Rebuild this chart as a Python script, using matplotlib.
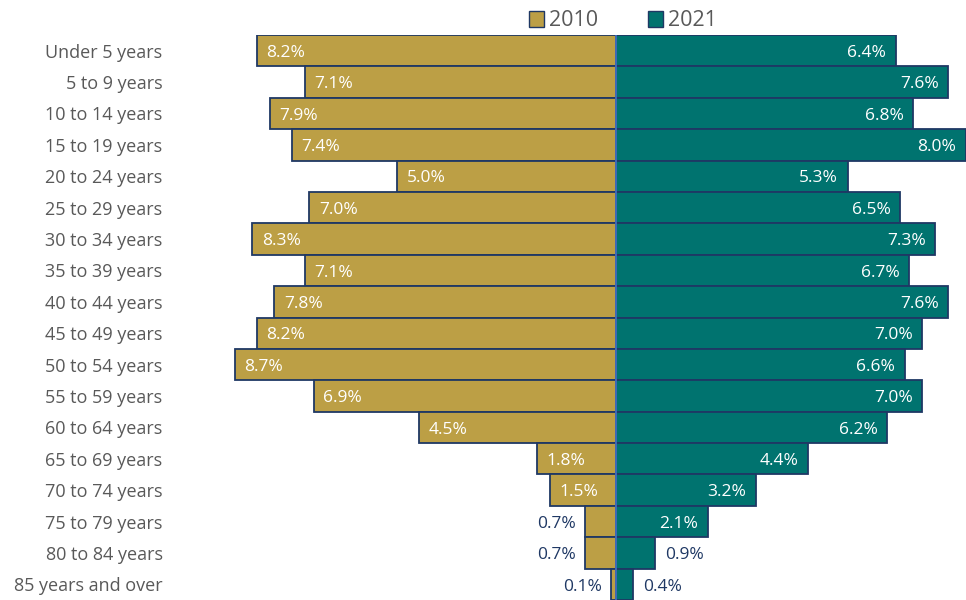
import matplotlib.pyplot as plt
from matplotlib.patches import Patch

plt.rcParams["font.family"] = ["Open Sans", "DejaVu Sans"]

age_groups = [
    "Under 5 years", "5 to 9 years", "10 to 14 years", "15 to 19 years",
    "20 to 24 years", "25 to 29 years", "30 to 34 years", "35 to 39 years",
    "40 to 44 years", "45 to 49 years", "50 to 54 years", "55 to 59 years",
    "60 to 64 years", "65 to 69 years", "70 to 74 years", "75 to 79 years",
    "80 to 84 years", "85 years and over",
]
pct_2010 = [8.2, 7.1, 7.9, 7.4, 5.0, 7.0, 8.3, 7.1, 7.8, 8.2, 8.7, 6.9, 4.5, 1.8, 1.5, 0.7, 0.7, 0.1]
pct_2021 = [6.4, 7.6, 6.8, 8.0, 5.3, 6.5, 7.3, 6.7, 7.6, 7.0, 6.6, 7.0, 6.2, 4.4, 3.2, 2.1, 0.9, 0.4]

GOLD = "#BC9F45"
TEAL = "#00736F"
EDGE = "#1F3864"
GREY = "#595959"

fig = plt.figure(figsize=(9.66, 6.0), dpi=100)
ax = fig.add_axes([175 / 966, 0.0, 791 / 966, 565 / 600])

y = range(len(age_groups))
ax.barh(y, [-v for v in pct_2010], height=1.0, color=GOLD, edgecolor=EDGE, linewidth=1.3, label="2010")
ax.barh(y, pct_2021, height=1.0, color=TEAL, edgecolor=EDGE, linewidth=1.3, label="2021")
ax.axvline(0, color="#4472C4", linewidth=1.2)

# labels sit inside the bar end, or just outside it for the short bars
dy = 0.07
for i, (a, b) in enumerate(zip(pct_2010, pct_2021)):
    if a >= 1.0:
        ax.text(-a + 0.22, i + dy, f"{a:.1f}%", ha="left", va="center", color="white", fontsize=12.5)
    else:
        ax.text(-a - 0.22, i + dy, f"{a:.1f}%", ha="right", va="center", color=EDGE, fontsize=12.5)
    if b >= 1.0:
        ax.text(b - 0.22, i + dy, f"{b:.1f}%", ha="right", va="center", color="white", fontsize=12.5)
    else:
        ax.text(b + 0.22, i + dy, f"{b:.1f}%", ha="left", va="center", color=EDGE, fontsize=12.5)

ax.set_xlim(-10.07, 8.0)
ax.set_ylim(17.5, -0.5)
ax.set_yticks(list(y))
ax.set_yticklabels(age_groups, fontsize=13, color=GREY)
ax.set_xticks([])
ax.tick_params(axis="y", length=0, pad=9)
for s in ax.spines.values():
    s.set_visible(False)
ax.patch.set_alpha(0)

handles = [Patch(facecolor=GOLD, edgecolor=EDGE, label="2010"),
           Patch(facecolor=TEAL, edgecolor=EDGE, label="2021")]
fig.legend(handles=handles, loc="center", bbox_to_anchor=(623 / 966, 1 - 21 / 600), ncol=2,
           frameon=False, fontsize=15.5, labelcolor=GREY, handlelength=0.7, handleheight=0.7,
           handletextpad=0.25, columnspacing=2.3)

fig.savefig("out.png", dpi=100)
